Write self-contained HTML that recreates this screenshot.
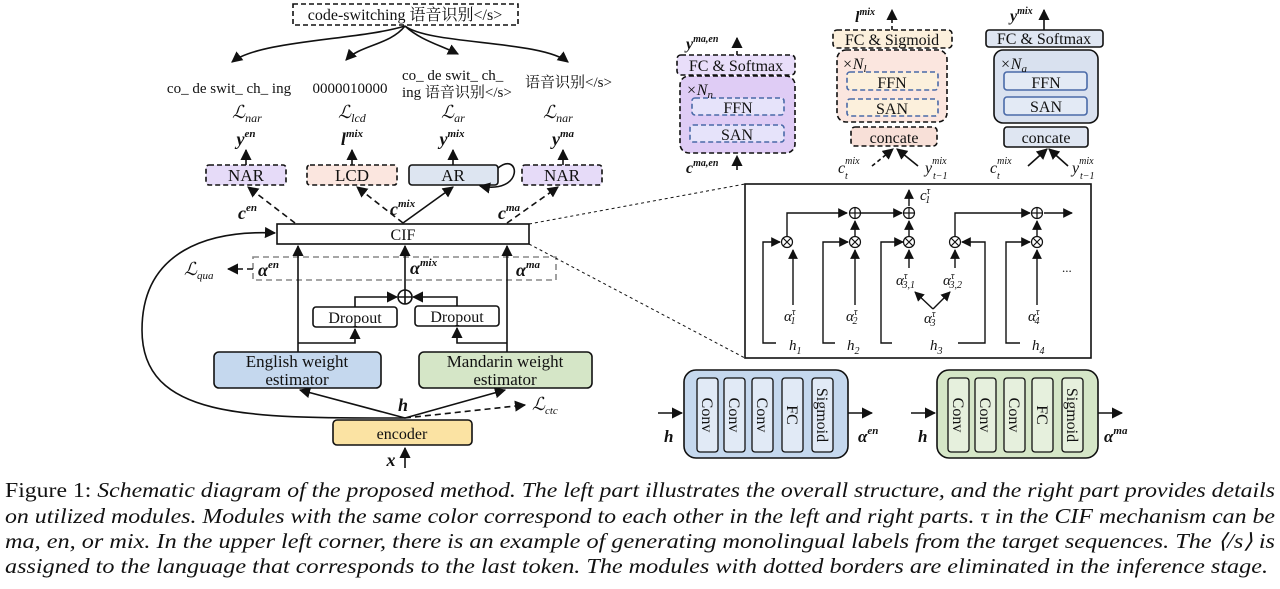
<!DOCTYPE html>
<html><head><meta charset="utf-8"><style>
html,body{margin:0;padding:0;background:#fff}
svg{display:block}
text{font-family:"Liberation Serif","Noto Serif CJK SC","Noto Sans CJK SC",serif;fill:#111}
.m{font-style:italic;font-weight:bold}
.i{font-style:italic}
</style></head><body>
<svg width="1280" height="589" viewBox="0 0 1280 589" xmlns="http://www.w3.org/2000/svg">
<defs>
<marker id="a" viewBox="0 0 10 10" refX="9" refY="5" markerWidth="7" markerHeight="7" orient="auto-start-reverse"><path d="M0,0L10,5L0,10z" fill="#111"/></marker>
</defs>
<g stroke="#111" stroke-width="1.6" fill="none">
<rect x="293" y="4" width="225" height="21" stroke-dasharray="5,3"/>
<path d="M405,26 C360,40 260,40 232,62" marker-end="url(#a)"/>
<path d="M405,26 C390,45 360,45 346,60" marker-end="url(#a)"/>
<path d="M405,26 C420,40 440,45 458,54" marker-end="url(#a)"/>
<path d="M405,26 C430,45 540,40 568,62" marker-end="url(#a)"/>
<rect x="206" y="165" width="80" height="20" rx="3" fill="#e6dbf8" stroke-dasharray="5,3"/>
<rect x="307" y="165" width="90" height="20" rx="3" fill="#fbe6df" stroke-dasharray="5,3"/>
<rect x="409" y="165" width="89" height="20" rx="3" fill="#dde5f1"/>
<rect x="522" y="165" width="80" height="20" rx="3" fill="#e6dbf8" stroke-dasharray="5,3"/>
<path d="M498,168 C520,150 525,195 480,186" marker-end="url(#a)"/>
<path d="M246,165 V150" marker-end="url(#a)"/>
<path d="M352,165 V150" marker-end="url(#a)"/>
<path d="M453,165 V150" marker-end="url(#a)"/>
<path d="M563,165 V150" marker-end="url(#a)"/>
<rect x="277" y="224" width="252" height="20"/>
<path d="M295,223 L248,187" stroke-dasharray="6,4" marker-end="url(#a)"/>
<path d="M403,223 L357,187" stroke-dasharray="6,4" marker-end="url(#a)"/>
<path d="M403,223 L453,187" marker-end="url(#a)"/>
<path d="M507,223 L558,187" stroke-dasharray="6,4" marker-end="url(#a)"/>
<rect x="253" y="257" width="303" height="23" stroke="#888" stroke-dasharray="6,4"/>
<path d="M253,269 H228" stroke-dasharray="6,4" marker-end="url(#a)"/>
<path d="M298,352 V246" marker-end="url(#a)"/>
<path d="M507,352 V246" marker-end="url(#a)"/>
<path d="M405,290 V246" marker-end="url(#a)"/>
<circle cx="405" cy="297" r="7"/><path d="M398,297H412M405,290V304"/>
<rect x="313" y="307" width="84" height="20" rx="3"/>
<rect x="415" y="306" width="84" height="20" rx="3"/>
<path d="M355,307 V297 H397" marker-end="url(#a)"/>
<path d="M457,306 V297 H413" marker-end="url(#a)"/>
<path d="M298,343 H355 V329" marker-end="url(#a)"/>
<path d="M507,343 H457 V328" marker-end="url(#a)"/>
<rect x="214" y="352" width="167" height="36" rx="5" fill="#c5d8ee"/>
<rect x="419" y="352" width="173" height="36" rx="5" fill="#d5e6c7"/>
<rect x="333" y="420" width="139" height="25" rx="4" fill="#fbe3a3"/>
<path d="M405,418 L300,390" marker-end="url(#a)"/>
<path d="M405,418 L505,390" marker-end="url(#a)"/>
<path d="M405,418 L525,405" stroke-dasharray="6,4" marker-end="url(#a)"/>
<path d="M405,418 C250,418 142,420 142,330 C142,250 210,230 275,233" marker-end="url(#a)"/>
<path d="M405,468 V448" marker-end="url(#a)"/>
<path d="M529,224 L745,184 M529,244 L745,358" stroke-width="1" stroke-dasharray="3,3"/>
<rect x="677" y="55" width="118" height="20" rx="4" fill="#e9defa" stroke-dasharray="5,3"/>
<rect x="680" y="76" width="115" height="77" rx="9" fill="#dfccf5" stroke-dasharray="5,3"/>
<rect x="692" y="98" width="92" height="17" rx="3" fill="#e6e3fa" stroke="#4a6aa8" stroke-dasharray="5,3"/>
<rect x="690" y="125" width="94" height="17" rx="3" fill="#e6e3fa" stroke="#4a6aa8" stroke-dasharray="5,3"/>
<path d="M737,55 V38" stroke-dasharray="4,3" marker-end="url(#a)"/>
<path d="M737,170 V156" stroke-dasharray="4,3" marker-end="url(#a)"/>
<rect x="833" y="30" width="119" height="18" rx="4" fill="#fcf0dc" stroke-dasharray="5,3"/>
<rect x="837" y="50" width="110" height="72" rx="9" fill="#fbe6df" stroke-dasharray="5,3"/>
<rect x="847" y="72" width="91" height="18" rx="3" fill="#fcf0dc" stroke="#4a6aa8" stroke-dasharray="5,3"/>
<rect x="847" y="99" width="91" height="17" rx="3" fill="#fcf0dc" stroke="#4a6aa8" stroke-dasharray="5,3"/>
<rect x="851" y="127" width="86" height="19" rx="4" fill="#f8e0d8" stroke-dasharray="5,3"/>
<path d="M892,30 V10" stroke-dasharray="4,3" marker-end="url(#a)"/>
<path d="M872,166 L893,149" stroke-dasharray="4,3" marker-end="url(#a)"/>
<path d="M918,166 L897,149" marker-end="url(#a)"/>
<rect x="986" y="30" width="117" height="17" rx="3" fill="#dfe6f2"/>
<rect x="994" y="50" width="104" height="73" rx="9" fill="#d9e1ef"/>
<rect x="1004" y="72" width="83" height="18" rx="3" fill="#e3eaf5" stroke="#4a6aa8"/>
<rect x="1004" y="97" width="83" height="18" rx="3" fill="#e3eaf5" stroke="#4a6aa8"/>
<rect x="1004" y="127" width="84" height="20" rx="3" fill="#dfe6f2"/>
<path d="M1044,30 V10" marker-end="url(#a)"/>
<path d="M1028,166 L1047,149" marker-end="url(#a)"/>
<path d="M1068,166 L1049,149" marker-end="url(#a)"/>
<rect x="745" y="184" width="346" height="174"/>
<g stroke-width="1.4">
<path d="M776,343 H763 V242 H780" marker-end="url(#a)"/>
<path d="M835,343 H823 V242 H848" marker-end="url(#a)"/>
<path d="M892,343 H881 V242 H903" marker-end="url(#a)"/>
<path d="M958,343 H985 V242 H962" marker-end="url(#a)"/>
<path d="M1020,343 H1006 V242 H1030" marker-end="url(#a)"/>
<path d="M793,305 V250" marker-end="url(#a)"/>
<path d="M855,305 V250" marker-end="url(#a)"/>
<path d="M909,268 V250" marker-end="url(#a)"/>
<path d="M955,268 V250" marker-end="url(#a)"/>
<path d="M1037,305 V250" marker-end="url(#a)"/>
<path d="M933,309 L915,292" marker-end="url(#a)"/>
<path d="M933,309 L950,292" marker-end="url(#a)"/>
<path d="M787,236 V213 H847" marker-end="url(#a)"/>
<path d="M855,236 V221" marker-end="url(#a)"/>
<path d="M861,213 H902" marker-end="url(#a)"/>
<path d="M909,236 V221" marker-end="url(#a)"/>
<path d="M909,206 V190" marker-end="url(#a)"/>
<path d="M955,236 V213 H1030" marker-end="url(#a)"/>
<path d="M1037,236 V221" marker-end="url(#a)"/>
<path d="M1044,213 H1072" marker-end="url(#a)"/>
</g>
<g stroke-width="1.2">
<circle cx="787" cy="242" r="5.5"/><path d="M783,238L791,246M791,238L783,246"/>
<circle cx="855" cy="242" r="5.5"/><path d="M851,238L859,246M859,238L851,246"/>
<circle cx="909" cy="242" r="5.5"/><path d="M905,238L913,246M913,238L905,246"/>
<circle cx="955" cy="242" r="5.5"/><path d="M951,238L959,246M959,238L951,246"/>
<circle cx="1037" cy="242" r="5.5"/><path d="M1033,238L1041,246M1041,238L1033,246"/>
<circle cx="855" cy="213" r="5.5"/><path d="M849.5,213H860.5M855,207.5V218.5"/>
<circle cx="909" cy="213" r="5.5"/><path d="M903.5,213H914.5M909,207.5V218.5"/>
<circle cx="1037" cy="213" r="5.5"/><path d="M1031.5,213H1042.5M1037,207.5V218.5"/>
</g>
<rect x="684" y="370" width="164" height="88" rx="12" fill="#c5d8ee"/>
<rect x="937" y="370" width="161" height="88" rx="12" fill="#d5e6c7"/>
<g fill="#e1eaf6" stroke-width="1.3">
<rect x="697" y="378" width="21" height="74" rx="3"/><rect x="724" y="378" width="21" height="74" rx="3"/><rect x="752" y="378" width="21" height="74" rx="3"/><rect x="782" y="378" width="21" height="74" rx="3"/><rect x="812" y="378" width="21" height="74" rx="3"/>
</g>
<g fill="#e6f0dd" stroke-width="1.3">
<rect x="948" y="378" width="21" height="74" rx="3"/><rect x="975" y="378" width="21" height="74" rx="3"/><rect x="1004" y="378" width="21" height="74" rx="3"/><rect x="1032" y="378" width="21" height="74" rx="3"/><rect x="1062" y="378" width="21" height="74" rx="3"/>
</g>
<path d="M658,413 H682" marker-end="url(#a)"/>
<path d="M848,413 H872" marker-end="url(#a)"/>
<path d="M911,413 H935" marker-end="url(#a)"/>
<path d="M1098,413 H1122" marker-end="url(#a)"/>
</g>

<g font-size="15">
<text x="405" y="20" text-anchor="middle" font-size="16">code-switching 语音识别&lt;/s&gt;</text>
<text x="229" y="93" text-anchor="middle">co_ de swit_ ch_ ing</text>
<text x="350" y="93" text-anchor="middle">0000010000</text>
<text x="402" y="80">co_ de swit_ ch_</text>
<text x="402" y="97">ing 语音识别&lt;/s&gt;</text>
<text x="525" y="87">语音识别&lt;/s&gt;</text>
<g font-size="18">
<text x="247" y="118" text-anchor="middle" class="i">ℒ<tspan font-size="12" dy="4">nar</tspan></text>
<text x="352" y="118" text-anchor="middle" class="i">ℒ<tspan font-size="12" dy="4">lcd</tspan></text>
<text x="453" y="118" text-anchor="middle" class="i">ℒ<tspan font-size="12" dy="4">ar</tspan></text>
<text x="558" y="118" text-anchor="middle" class="i">ℒ<tspan font-size="12" dy="4">nar</tspan></text>
<text x="246" y="145" text-anchor="middle" class="m">y<tspan font-size="11" dy="-8">en</tspan></text>
<text x="352" y="145" text-anchor="middle" class="m">l<tspan font-size="11" dy="-8">mix</tspan></text>
<text x="452" y="145" text-anchor="middle" class="m">y<tspan font-size="11" dy="-8">mix</tspan></text>
<text x="563" y="145" text-anchor="middle" class="m">y<tspan font-size="11" dy="-8">ma</tspan></text>
<text x="238" y="219" class="m">c<tspan font-size="11" dy="-8">en</tspan></text>
<text x="390" y="215" class="m">c<tspan font-size="11" dy="-8">mix</tspan></text>
<text x="498" y="219" class="m">c<tspan font-size="11" dy="-8">ma</tspan></text>
<text x="258" y="276" class="m">α<tspan font-size="11" dy="-8">en</tspan></text>
<text x="410" y="274" class="m">α<tspan font-size="11" dy="-8">mix</tspan></text>
<text x="516" y="276" class="m">α<tspan font-size="11" dy="-8">ma</tspan></text>
<text x="184" y="275" class="i">ℒ<tspan font-size="11" dy="4">qua</tspan></text>
<text x="403" y="411" text-anchor="middle" class="m">h</text>
<text x="391" y="466" text-anchor="middle" class="m">x</text>
<text x="532" y="410" class="i">ℒ<tspan font-size="11" dy="4">ctc</tspan></text>
</g>
<text x="246" y="181" text-anchor="middle" font-size="17">NAR</text>
<text x="352" y="181" text-anchor="middle" font-size="17">LCD</text>
<text x="453" y="181" text-anchor="middle" font-size="17">AR</text>
<text x="562" y="181" text-anchor="middle" font-size="17">NAR</text>
<text x="403" y="240" text-anchor="middle" font-size="16">CIF</text>
<text x="355" y="323" text-anchor="middle" font-size="16">Dropout</text>
<text x="457" y="322" text-anchor="middle" font-size="16">Dropout</text>
<text x="297" y="367" text-anchor="middle" font-size="17">English weight</text>
<text x="297" y="385" text-anchor="middle" font-size="17">estimator</text>
<text x="505" y="367" text-anchor="middle" font-size="17">Mandarin weight</text>
<text x="505" y="385" text-anchor="middle" font-size="17">estimator</text>
<text x="402" y="439" text-anchor="middle" font-size="16">encoder</text>

<g font-size="16">
<text x="686" y="49" class="m">y<tspan font-size="10" dy="-7">ma,en</tspan></text>
<text x="736" y="71" text-anchor="middle">FC &amp; Softmax</text>
<text x="686" y="95" class="i">×N<tspan font-size="11" dy="3">n</tspan></text>
<text x="738" y="113" text-anchor="middle">FFN</text>
<text x="737" y="140" text-anchor="middle">SAN</text>
<text x="686" y="173" class="m">c<tspan font-size="10" dy="-7">ma,en</tspan></text>
<text x="855" y="22" class="m">l<tspan font-size="10" dy="-7">mix</tspan></text>
<text x="892" y="45" text-anchor="middle">FC &amp; Sigmoid</text>
<text x="842" y="69" class="i">×N<tspan font-size="11" dy="3">l</tspan></text>
<text x="892" y="88" text-anchor="middle">FFN</text>
<text x="892" y="114" text-anchor="middle">SAN</text>
<text x="894" y="143" text-anchor="middle">concate</text>
<text x="838" y="173" class="i">c<tspan font-size="10" dy="-9">mix</tspan></text>
<text x="845" y="179" class="i" font-size="10">t</text>
<text x="925" y="173" class="i">y<tspan font-size="10" dy="-9">mix</tspan></text>
<text x="933" y="179" class="i" font-size="10">t−1</text>
<text x="1010" y="21" class="m">y<tspan font-size="10" dy="-7">mix</tspan></text>
<text x="1044" y="44" text-anchor="middle">FC &amp; Softmax</text>
<text x="1000" y="69" class="i">×N<tspan font-size="11" dy="3">a</tspan></text>
<text x="1046" y="88" text-anchor="middle">FFN</text>
<text x="1046" y="112" text-anchor="middle">SAN</text>
<text x="1046" y="143" text-anchor="middle">concate</text>
<text x="990" y="173" class="i">c<tspan font-size="10" dy="-9">mix</tspan></text>
<text x="997" y="179" class="i" font-size="10">t</text>
<text x="1072" y="173" class="i">y<tspan font-size="10" dy="-9">mix</tspan></text>
<text x="1080" y="179" class="i" font-size="10">t−1</text>
</g>

<g font-size="15">
<text x="920" y="200" class="i">c<tspan font-size="10" dy="-6">τ</tspan><tspan font-size="10" dx="-5" dy="9">1</tspan></text>
<text x="784" y="321" class="i">α<tspan font-size="10" dy="-6">τ</tspan><tspan font-size="10" dx="-5" dy="9">1</tspan></text>
<text x="846" y="321" class="i">α<tspan font-size="10" dy="-6">τ</tspan><tspan font-size="10" dx="-5" dy="9">2</tspan></text>
<text x="896" y="285" class="i">α<tspan font-size="10" dy="-6">τ</tspan><tspan font-size="10" dx="-5" dy="9">3,1</tspan></text>
<text x="943" y="285" class="i">α<tspan font-size="10" dy="-6">τ</tspan><tspan font-size="10" dx="-5" dy="9">3,2</tspan></text>
<text x="924" y="323" class="i">α<tspan font-size="10" dy="-6">τ</tspan><tspan font-size="10" dx="-5" dy="9">3</tspan></text>
<text x="1028" y="321" class="i">α<tspan font-size="10" dy="-6">τ</tspan><tspan font-size="10" dx="-5" dy="9">4</tspan></text>
<text x="789" y="350" class="i">h<tspan font-size="10" dy="4">1</tspan></text>
<text x="847" y="350" class="i">h<tspan font-size="10" dy="4">2</tspan></text>
<text x="930" y="350" class="i">h<tspan font-size="10" dy="4">3</tspan></text>
<text x="1032" y="350" class="i">h<tspan font-size="10" dy="4">4</tspan></text>
</g>
<text x="1062" y="272" font-size="13">...</text>

<g font-size="16">
<text transform="translate(702,415) rotate(90)" text-anchor="middle">Conv</text>
<text transform="translate(729,415) rotate(90)" text-anchor="middle">Conv</text>
<text transform="translate(757,415) rotate(90)" text-anchor="middle">Conv</text>
<text transform="translate(787,415) rotate(90)" text-anchor="middle">FC</text>
<text transform="translate(817,415) rotate(90)" text-anchor="middle">Sigmoid</text>
<text transform="translate(953,415) rotate(90)" text-anchor="middle">Conv</text>
<text transform="translate(980,415) rotate(90)" text-anchor="middle">Conv</text>
<text transform="translate(1009,415) rotate(90)" text-anchor="middle">Conv</text>
<text transform="translate(1037,415) rotate(90)" text-anchor="middle">FC</text>
<text transform="translate(1067,415) rotate(90)" text-anchor="middle">Sigmoid</text>
</g>
<g font-size="17">
<text x="664" y="442" class="m">h</text>
<text x="918" y="442" class="m">h</text>
<text x="858" y="442" class="m">α<tspan font-size="11" dy="-8">en</tspan></text>
<text x="1104" y="442" class="m">α<tspan font-size="11" dy="-8">ma</tspan></text>
</g>
</g>

<g font-size="21">
<text x="5" y="497" textLength="1270" lengthAdjust="spacingAndGlyphs">Figure 1: <tspan class="i">Schematic diagram of the proposed method. The left part illustrates the overall structure, and the right part provides details</tspan></text>
<text x="5" y="523" textLength="1270" lengthAdjust="spacingAndGlyphs" class="i">on utilized modules. Modules with the same color correspond to each other in the left and right parts. τ in the CIF mechanism can be</text>
<text x="5" y="548" textLength="1270" lengthAdjust="spacingAndGlyphs" class="i">ma, en, or mix. In the upper left corner, there is an example of generating monolingual labels from the target sequences. The ⟨/s⟩ is</text>
<text x="5" y="573" textLength="1263" lengthAdjust="spacingAndGlyphs" class="i">assigned to the language that corresponds to the last token. The modules with dotted borders are eliminated in the inference stage.</text>
</g>
</svg>
</body></html>
